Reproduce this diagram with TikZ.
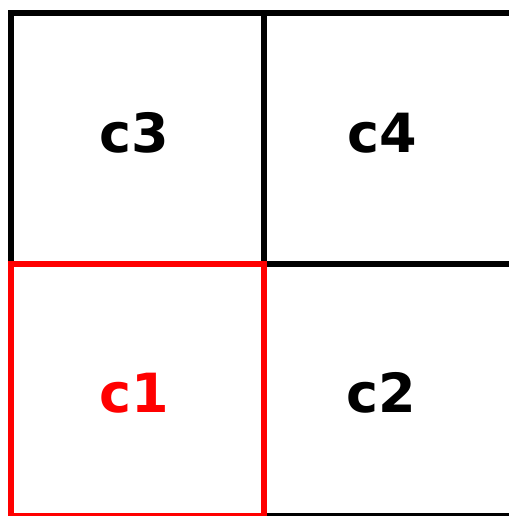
\documentclass[tikz,border=0pt]{standalone}
\usepackage{fontspec}
\setmainfont{DejaVu Sans}
\begin{document}
\begin{tikzpicture}[x=1pt,y=-1pt,
  cell/.style={draw=black,line width=6pt,line join=miter},
  redcell/.style={draw=red,line width=6pt,line join=miter},
  lbl/.style={inner sep=0pt,font=\fontsize{54}{60}\selectfont\bfseries}]
\useasboundingbox (0,0) rectangle (508,516);
\fill[white] (0,0) rectangle (508,516);
\draw[cell] (11,13) rectangle (264,264);
\draw[cell] (264,13) rectangle (517,264);
\draw[cell] (264,264) rectangle (517,516);
\draw[redcell] (11,264) rectangle (264,516);
\node[lbl] (c3) at (134,133) {c3};
\node[lbl] (c4) at (382,133) {c4};
\node[lbl,text=red] (c1) at (134,393) {c1};
\node[lbl] (c2) at (381,393) {c2};
\end{tikzpicture}
\end{document}
